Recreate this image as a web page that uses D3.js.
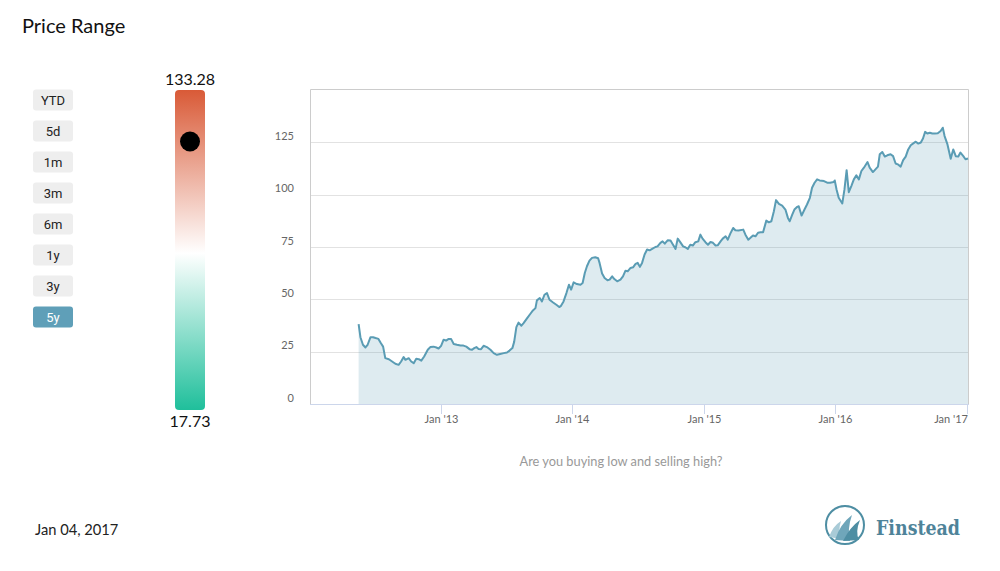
<!DOCTYPE html>
<html><head><meta charset="utf-8">
<script src="https://cdn.jsdelivr.net/npm/d3@7"></script>
<style>
html,body{margin:0;padding:0;background:#fff;}
svg{display:block;font-family:Lato,"Open Sans",sans-serif;}
</style></head>
<body>
<svg id="c" width="1000" height="571"></svg>
<script>
const dates = ["2012-05-18","2012-05-23","2012-05-30","2012-06-06","2012-06-12","2012-06-20","2012-06-27","2012-07-04","2012-07-12","2012-07-19","2012-07-25","2012-07-31","2012-08-10","2012-08-19","2012-08-28","2012-09-06","2012-09-13","2012-09-20","2012-09-25","2012-10-04","2012-10-11","2012-10-18","2012-10-25","2012-11-01","2012-11-08","2012-11-16","2012-11-26","2012-12-03","2012-12-12","2012-12-20","2012-12-26",
"2013-01-02","2013-01-09","2013-01-16","2013-01-22","2013-01-30","2013-02-06","2013-02-15","2013-02-25","2013-03-05","2013-03-13","2013-03-22","2013-03-29","2013-04-04","2013-04-10","2013-04-16","2013-04-23","2013-04-30","2013-05-09","2013-05-19","2013-05-28","2013-06-06","2013-06-15","2013-06-25","2013-07-04","2013-07-11","2013-07-19","2013-07-24","2013-07-30","2013-08-05","2013-08-13","2013-08-19","2013-08-29","2013-09-07","2013-09-14","2013-09-21","2013-09-25","2013-10-03","2013-10-09","2013-10-16","2013-10-23","2013-10-30","2013-11-09","2013-11-18","2013-11-26","2013-12-01","2013-12-08","2013-12-16","2013-12-23","2013-12-29",
"2014-01-05","2014-01-14","2014-01-24","2014-01-30","2014-02-05","2014-02-11","2014-02-18","2014-02-25","2014-03-06","2014-03-14","2014-03-18","2014-03-25","2014-04-01","2014-04-09","2014-04-15","2014-04-22","2014-04-28","2014-05-06","2014-05-15","2014-05-22","2014-05-29","2014-06-04","2014-06-12","2014-06-19","2014-06-26","2014-07-02","2014-07-08","2014-07-14","2014-07-21","2014-07-28","2014-08-04","2014-08-11","2014-08-20","2014-08-26","2014-09-03","2014-09-09","2014-09-15","2014-09-23","2014-10-01","2014-10-08","2014-10-15","2014-10-21","2014-10-28","2014-11-05","2014-11-11","2014-11-18","2014-11-25","2014-12-02","2014-12-09","2014-12-17","2014-12-23","2014-12-29",
"2015-01-06","2015-01-13","2015-01-20","2015-01-27","2015-02-03","2015-02-09","2015-02-17","2015-02-23","2015-03-03","2015-03-09","2015-03-16","2015-03-24","2015-03-30","2015-04-08","2015-04-21","2015-04-27","2015-05-05","2015-05-11","2015-05-18","2015-05-25","2015-06-01","2015-06-08","2015-06-15","2015-06-24","2015-07-01","2015-07-08","2015-07-15","2015-07-21","2015-07-29","2015-08-07","2015-08-16","2015-08-23","2015-08-28","2015-09-04","2015-09-10","2015-09-18","2015-09-22","2015-09-30","2015-10-08","2015-10-15","2015-10-23","2015-10-29","2015-11-05","2015-11-12","2015-11-19","2015-12-01","2015-12-10","2015-12-18","2015-12-28","2015-12-31",
"2016-01-05","2016-01-11","2016-01-21","2016-01-27","2016-02-02","2016-02-08","2016-02-15","2016-02-22","2016-02-29","2016-03-07","2016-03-14","2016-03-21","2016-03-31","2016-04-06","2016-04-15","2016-04-22","2016-04-29","2016-05-04","2016-05-11","2016-05-18","2016-05-25","2016-06-03","2016-06-10","2016-06-17","2016-06-23","2016-07-01","2016-07-08","2016-07-15","2016-07-22","2016-07-29","2016-08-05","2016-08-12","2016-08-19","2016-08-26","2016-09-01","2016-09-07","2016-09-13","2016-09-20","2016-09-27","2016-10-04","2016-10-12","2016-10-20","2016-10-26","2016-10-31","2016-11-08","2016-11-17","2016-11-24","2016-12-01","2016-12-08","2016-12-14","2016-12-22","2016-12-28","2017-01-04"];
const prices = [38.2,31.9,28.3,27.0,28.3,31.9,31.9,31.5,31.1,29.0,27.4,21.9,21.4,20.3,19.2,18.7,20.3,22.4,21.1,21.9,20.3,19.5,21.6,21.4,20.7,22.7,25.9,27.2,27.4,27.0,26.5,
27.8,30.7,30.3,31.0,31.0,28.7,28.3,27.9,27.9,27.4,26.2,25.9,26.7,27.2,26.3,26.2,27.8,27.2,25.9,24.3,23.5,23.9,24.3,24.6,25.5,26.7,29.8,36.7,38.9,37.4,38.6,41.0,43.1,44.7,45.8,49.5,50.6,49.0,52.2,53.0,49.8,48.5,47.4,46.3,46.9,49.0,53.0,57.0,54.6,
58.1,57.3,57.0,57.8,62.6,65.8,68.5,69.8,70.1,69.6,67.4,62.3,60.2,59.1,59.4,61.0,59.7,58.6,59.4,61.0,63.7,63.4,65.0,65.3,66.9,67.4,65.5,67.4,71.4,73.8,73.4,74.1,75.0,75.3,77.0,77.7,76.6,78.2,78.1,76.1,74.1,79.0,77.3,75.3,74.9,74.1,76.1,75.7,77.3,77.7,80.9,79.0,
77.3,76.1,77.4,77.0,75.7,75.8,77.7,79.0,80.1,78.5,81.4,84.1,83.0,82.9,83.3,80.9,78.5,79.4,80.5,80.1,81.8,82.0,82.0,87.6,86.8,87.3,92.1,97.4,95.6,94.8,92.9,88.9,87.3,90.5,92.9,94.2,94.5,90.0,92.9,95.3,98.5,103.3,105.7,107.3,106.8,106.5,105.7,105.7,106.0,106.8,
102.5,98.5,95.8,102.5,111.7,101.2,104.1,107.3,109.2,107.3,111.3,112.9,115.6,112.9,110.8,112.1,113.4,119.3,120.4,118.2,118.8,119.3,118.4,114.9,114.5,113.4,116.5,118.2,121.6,123.6,124.5,125.3,124.4,124.9,126.8,130.0,129.2,129.6,129.2,129.2,129.3,130.4,132.0,128.0,124.0,117.2,121.6,118.4,118.2,120.1,118.4,116.9,117.3];

const buttons = ["YTD","5d","1m","3m","6m","1y","3y","5y"];
const selectedButton = "5y";
const rangeMax = 133.28, rangeMin = 17.73;
const yTicks = [0,25,50,75,100,125];
const xTickDates = ["2013-01-01","2014-01-01","2015-01-01","2016-01-01","2017-01-01"];
const xTickLabels = ["Jan '13","Jan '14","Jan '15","Jan '16","Jan '17"];
const xDomain = ["2012-01-04","2017-01-04"];
const titleText = "Price Range";
const captionText = "Are you buying low and selling high?";
const dateText = "Jan 04, 2017";
const brandText = "Finstead";

const parse = d3.timeParse("%Y-%m-%d");
const data = dates.map((d,i)=>({date:parse(d), value:prices[i]}));
const svg = d3.select("#c");

// Title
svg.append("text").attr("x",22).attr("y",33).attr("font-size",20).attr("fill","#111").text(titleText);

// Buttons
const by = d3.scalePoint().domain(buttons).range([100,317]);
const bg = svg.append("g");
buttons.forEach(b=>{
  const sel = b===selectedButton;
  bg.append("rect").attr("x",33).attr("y",by(b)-10.5).attr("width",40).attr("height",21).attr("rx",3)
    .attr("fill", sel ? "#5f9fb8" : "#eeeeee");
  bg.append("text").attr("x",53).attr("y",by(b)+4.5).attr("text-anchor","middle").attr("font-size",13)
    .attr("font-family","Roboto, Lato, sans-serif")
    .attr("fill", sel ? "#ffffff" : "#222").text(b);
});

// Gradient bar
const defs = svg.append("defs");
const gr = defs.append("linearGradient").attr("id","rg").attr("x1",0).attr("y1",0).attr("x2",0).attr("y2",1);
gr.append("stop").attr("offset","0%").attr("stop-color","#d95a37");
gr.append("stop").attr("offset","51%").attr("stop-color","#ffffff");
gr.append("stop").attr("offset","100%").attr("stop-color","#1fbf9b");
const barTop = 90, barBot = 410;
svg.append("rect").attr("x",175).attr("y",barTop).attr("width",30).attr("height",barBot-barTop).attr("rx",4).attr("fill","url(#rg)");
svg.append("text").attr("x",190).attr("y",85).attr("text-anchor","middle").attr("font-size",16).attr("fill","#111").text(rangeMax.toFixed(2));
svg.append("text").attr("x",190).attr("y",427).attr("text-anchor","middle").attr("font-size",16).attr("fill","#111").text(rangeMin.toFixed(2));
const rs = d3.scaleLinear().domain([rangeMin,rangeMax]).range([barBot-10, barTop+10]);
svg.append("circle").attr("cx",190).attr("cy",rs(prices[prices.length-1])).attr("r",10).attr("fill","#000");

// Chart
const L=310,R=968,T=90,B=404;
const x = d3.scaleTime().domain(xDomain.map(parse)).range([L,R]);
const y = d3.scaleLinear().domain([0,150]).range([B,T]);

const g = svg.append("g");
// gridlines
g.selectAll("line.grid").data(yTicks.filter(t=>t>0)).enter().append("line")
  .attr("x1",L).attr("x2",R).attr("y1",d=>Math.round(y(d))+0.5).attr("y2",d=>Math.round(y(d))+0.5)
  .attr("stroke","#e2e2e2").attr("stroke-width",1);
// frame
g.append("path").attr("d",`M${L+0.5},${B} V${T-0.5} H${R+0.5} V${B}`).attr("fill","none").attr("stroke","#cccccc").attr("stroke-width",1);

// area + line
const area = d3.area().x(d=>x(d.date)).y0(y(0)).y1(d=>y(d.value));
const line = d3.line().x(d=>x(d.date)).y(d=>y(d.value));
g.append("path").datum(data).attr("d",area).attr("fill","#5a9cb4").attr("fill-opacity",0.2);
g.append("path").datum(data).attr("d",line).attr("fill","none").attr("stroke","#5a9cb4").attr("stroke-width",2).attr("stroke-linejoin","round");

// x axis
g.append("line").attr("x1",L).attr("x2",R+1).attr("y1",B+0.5).attr("y2",B+0.5).attr("stroke","#ccd6eb");
xTickDates.forEach((d,i)=>{
  const px = Math.round(x(parse(d)))+0.5;
  g.append("line").attr("x1",px).attr("x2",px).attr("y1",B).attr("y2",B+10).attr("stroke","#ccd6eb");
  const t = g.append("text").attr("y",423).attr("font-size",11).attr("fill","#666").text(xTickLabels[i]);
  if (px + 18 > R) t.attr("x",R).attr("text-anchor","end");
  else t.attr("x",px).attr("text-anchor","middle");
});
// y axis labels
yTicks.forEach(v=>{
  g.append("text").attr("x",294).attr("y",y(v)-2.5).attr("text-anchor","end").attr("font-size",11).attr("fill","#666").text(v);
});

// caption
svg.append("text").attr("x",621).attr("y",466).attr("text-anchor","middle").attr("font-size",12.8).attr("fill","#999").text(captionText);
// date
svg.append("text").attr("x",35).attr("y",535).attr("font-size",14.7).attr("fill","#222").text(dateText);

// logo
const lg = svg.append("g");
lg.append("circle").attr("cx",845).attr("cy",525).attr("r",19).attr("fill","#fff").attr("stroke","#4e8ea3").attr("stroke-width",2);
lg.append("path").attr("d","M829,537 Q833,526 841,521 Q838,530 841,539 Z").attr("fill","#a9cbd7");
lg.append("path").attr("d","M835,540 Q840,524 852,515 Q847,529 850,541 Z").attr("fill","#6fa6ba");
lg.append("path").attr("d","M843,541 Q850,527 860,520 Q855,532 859,540 Z").attr("fill","#4e8ea3");
lg.append("text").attr("x",876).attr("y",535).attr("font-size",21).attr("font-weight","bold")
  .attr("font-family","'DejaVu Serif', serif").attr("fill","#4e8399")
  .attr("textLength",84).attr("lengthAdjust","spacingAndGlyphs").text(brandText);
</script>
</body></html>
